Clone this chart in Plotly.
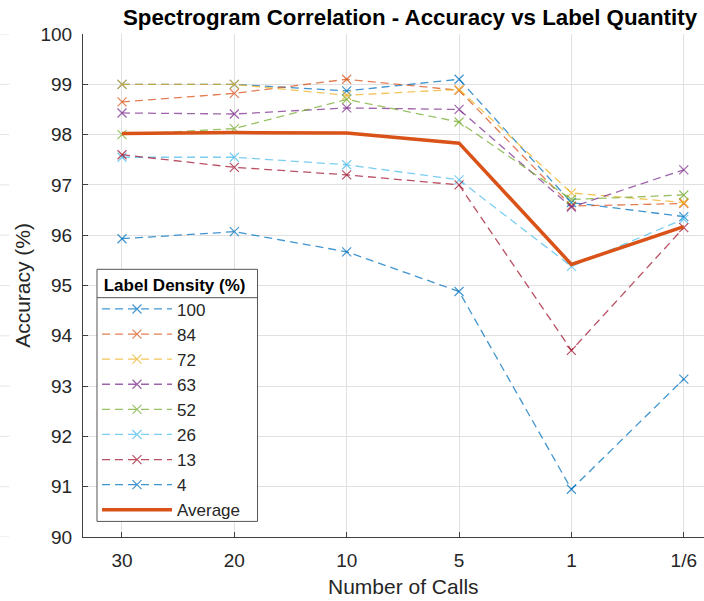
import plotly.graph_objects as go

calls = ["30", "20", "10", "5", "1", "1/6"]
densities = ["100", "84", "72", "63", "52", "26", "13", "4"]

acc_100 = [99.00, 99.00, 98.87, 99.10, 96.65, 96.37]
acc_84 = [98.65, 98.82, 99.10, 98.88, 96.58, 96.63]
acc_72 = [99.00, 99.00, 98.78, 98.90, 96.84, 96.65]
acc_63 = [98.43, 98.41, 98.53, 98.50, 96.56, 97.30]
acc_52 = [98.00, 98.12, 98.70, 98.25, 96.71, 96.80]
acc_26 = [97.55, 97.55, 97.40, 97.10, 95.38, 96.32]
acc_13 = [97.60, 97.35, 97.20, 97.00, 93.71, 96.15]
acc_4 = [95.93, 96.07, 95.67, 94.88, 90.95, 93.14]
acc_avg = [98.02, 98.04, 98.03, 97.83, 95.42, 96.17]

series = [acc_100, acc_84, acc_72, acc_63, acc_52, acc_26, acc_13, acc_4]
colors = ["0,114,189", "217,83,25", "237,177,32", "126,47,142",
          "119,172,48", "77,190,238", "162,20,47", "0,114,189"]

FONT = "Liberation Sans, Arial, sans-serif"
W, H = 704, 601
L, R, T, B = 82.7, 704, 33.7, 537.3

fig = go.Figure()
for name, vals, c in zip(densities, series, colors):
    fig.add_trace(go.Scatter(
        x=list(range(len(calls))), y=vals, name=name, mode="lines+markers",
        line=dict(color=f"rgba({c},0.75)", width=1.3, dash="8px,5px"),
        marker=dict(symbol="x-thin-open", size=9,
                    line=dict(color=f"rgba({c},0.8)", width=1.2)),
    ))
fig.add_trace(go.Scatter(
    x=list(range(len(calls))), y=acc_avg, name="Average", mode="lines",
    line=dict(color="#D95319", width=3.5),
))

pw = R - L
ph = B - T
def px(xp):
    return (xp - L) / pw
def py(yp):
    return (B - yp) / ph

shapes = []
# faint stubs of neighbouring gridlines at left edge
for v in range(90, 101):
    shapes.append(dict(type="line", xref="paper", yref="y",
                       x0=px(0), x1=px(9), y0=v, y1=v,
                       line=dict(color="#E3E3E3", width=1)))
# legend box and title separator
shapes.append(dict(type="rect", xref="paper", yref="paper", layer="above",
                   x0=px(96.7), x1=px(257.3), y0=py(521.7), y1=py(269.3),
                   fillcolor="white", line=dict(color="#555555", width=1)))
shapes.append(dict(type="line", xref="paper", yref="paper", layer="above",
                   x0=px(96.7), x1=px(257.3), y0=py(297.7), y1=py(297.7),
                   line=dict(color="#555555", width=1)))

annotations = [
    dict(text="Accuracy (%)", xref="paper", yref="paper",
         x=px(22), y=0.5, xanchor="center", yanchor="middle",
         textangle=-90, showarrow=False,
         font=dict(family=FONT, size=21, color="#262626")),
    dict(text="Number of Calls", xref="paper", yref="paper",
         x=px(403), y=py(587), xanchor="center", yanchor="middle",
         showarrow=False,
         font=dict(family=FONT, size=21, color="#262626")),
]

fig.update_layout(
    width=W, height=H,
    margin=dict(l=L, r=W - R, t=T, b=H - B, pad=0, autoexpand=False),
    paper_bgcolor="white", plot_bgcolor="white",
    font=dict(family=FONT, size=17, color="#262626"),
    title=dict(text="<b>Spectrogram Correlation - Accuracy vs Label Quantity</b>",
               font=dict(family=FONT, size=22.3, color="black"),
               x=410 / W, xanchor="center", xref="container",
               y=1 - 17 / H, yanchor="middle", yref="container"),
    xaxis=dict(
        tickmode="array", tickvals=list(range(len(calls))), ticktext=calls,
        range=[-0.347, 5.18], showgrid=True, gridcolor="#E0E0E0", gridwidth=1,
        showline=True, linecolor="#404040", linewidth=1,
        ticks="inside", ticklen=5, tickcolor="#404040",
        tickfont=dict(size=19, color="#262626"), zeroline=False,
        ticklabelstandoff=6, automargin=False,
    ),
    yaxis=dict(
        range=[90, 100], dtick=1, tick0=90,
        showgrid=True, gridcolor="#E0E0E0", gridwidth=1,
        showline=True, linecolor="#404040", linewidth=1,
        ticks="inside", ticklen=5, tickcolor="#404040",
        tickfont=dict(size=19, color="#262626"), zeroline=False,
        ticklabelstandoff=6, automargin=False,
    ),
    legend=dict(
        title=dict(text="&nbsp;<b>Label Density (%)</b>", side="top",
                   font=dict(size=17, color="black")),
        x=px(96.7), y=py(269.3), xanchor="left", yanchor="top",
        bgcolor="rgba(0,0,0,0)", borderwidth=0,
        font=dict(size=17, color="#262626"),
        itemwidth=70, tracegroupgap=0,
    ),
    shapes=shapes,
    annotations=annotations,
    showlegend=True,
)

fig.write_html("out.html", post_script="document.body.style.margin='0px';",
               config={"displayModeBar": False})
